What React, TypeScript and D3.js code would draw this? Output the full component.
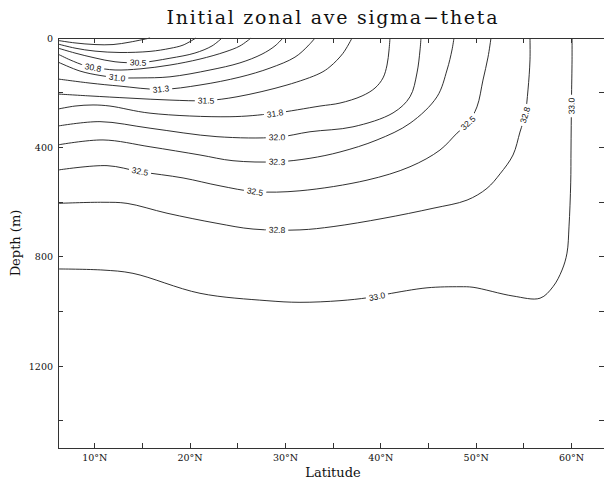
import React from "react";
import * as d3 from "d3";

const W = 604;
const H = 481;
const titleText = "Initial zonal ave sigma\u2212theta";
const xLabelText = "Latitude";
const yLabelText = "Depth (m)";
const latDomain = [6.15, 63.4];
const depthDomain = [0, 1500];
const xTickValues = [10, 20, 30, 40, 50, 60];
const xMinorTicks = [10, 15, 20, 25, 30, 35, 40, 45, 50, 55, 60];
const yTickValues = [0, 400, 800, 1200];
const yMinorTicks = [0, 200, 400, 600, 800, 1000, 1200, 1400];

// contour levels (sigma-theta), interval 0.25
const levels = [30.0, 30.25, 30.5, 30.75, 31.0, 31.25, 31.5, 31.75, 32.0, 32.25, 32.5, 32.75, 33.0];

// each contour: [latitude (deg N), depth (m)]
const c3000 = [[6.15, 9], [7.93, 18], [10.03, 24], [11.92, 24], [13.7, 15], [15.8, 0]];
const c3025 = [[6.15, 22], [7.93, 37], [10.03, 48], [12.65, 53], [15.8, 49], [17.89, 38], [19.26, 26], [20.62, 0]];
const c3050 = [[6.15, 37], [7.93, 55], [10.03, 73], [12.13, 87], [14.75, 90], [17.89, 74], [20.51, 55], [22.3, 29], [23.35, 0]];
const c3075 = [[6.15, 59], [7.41, 80], [8.98, 101], [10.03, 108], [12.13, 117], [14.75, 113], [17.89, 99], [21.04, 77], [23.66, 51], [25.23, 29], [26.39, 0]];
const c3100 = [[6.15, 88], [8.46, 121], [10.55, 137], [12.34, 145], [14.75, 146], [17.89, 142], [22.09, 117], [25.23, 91], [27.54, 59], [28.9, 29], [29.74, 0]];
const c3125 = [[6.15, 150], [9.51, 165], [12.65, 176], [16.95, 188], [21.04, 172], [25.23, 143], [28.38, 110], [31.0, 70], [32.36, 29], [33.1, 0]];
const c3150 = [[6.15, 205], [9.51, 212], [13.7, 220], [17.89, 227], [21.67, 229], [24.92, 215], [30.16, 172], [33.62, 129], [34.67, 105], [36.03, 56], [36.98, 0]];
const c3175 = [[6.15, 260], [7.93, 249], [9.82, 245], [11.6, 249], [15.8, 275], [24.18, 288], [28.69, 276], [33.62, 249], [35.72, 238], [38.03, 212], [39.39, 183], [40.23, 146], [40.65, 99], [40.86, 44], [40.96, 0]];
const c3200 = [[6.15, 322], [10.55, 306], [15.8, 330], [22.82, 361], [29.11, 363], [32.57, 343], [37.08, 325], [41.28, 274], [43.06, 215], [43.79, 128], [44.11, 44], [44.21, 0]];
const c3225 = [[6.15, 391], [10.87, 373], [15.8, 398], [21.04, 428], [24.5, 449], [29.11, 453], [32.57, 440], [35.72, 417], [39.6, 373], [43.06, 312], [45.89, 215], [46.94, 117], [47.46, 44], [47.67, 0]];
const c3250 = [[6.15, 483], [11.29, 467], [14.75, 489], [19.26, 512], [23.14, 541], [26.81, 562], [31.52, 559], [38.55, 520], [43.06, 471], [46.2, 410], [47.99, 348], [49.14, 311], [50.08, 252], [50.71, 154], [51.24, 70], [51.55, 0]];
const c3275 = [[6.15, 605], [10.87, 601], [13.39, 605], [17.58, 641], [22.82, 678], [26.6, 699], [31.52, 702], [34.99, 690], [40.23, 660], [45.47, 623], [49.04, 593], [51.13, 550], [52.5, 497], [53.86, 428], [54.59, 344], [55.12, 282], [55.43, 190], [55.64, 80], [55.64, 0]];
const c3300 = [[6.15, 845], [10.87, 849], [14.01, 861], [21.04, 934], [28.06, 961], [31.52, 967], [35.72, 961], [38.66, 950], [40.65, 937], [44.84, 914], [48.3, 910], [49.67, 912], [53.86, 944], [56.69, 952], [58.05, 910], [59.0, 849], [59.52, 787], [59.73, 691], [59.91, 530], [59.94, 410], [59.99, 227], [60.05, 80], [60.05, 0]];

const contourLines = [c3000, c3025, c3050, c3075, c3100, c3125, c3150, c3175, c3200, c3225, c3250, c3275, c3300];

// inline contour labels
const labelText = ["30.5", "30.8", "31.0", "31.3", "31.5", "31.8", "32.0", "32.3", "32.5", "32.5", "32.8", "33.0", "32.5", "32.8", "33.0"];
const labelLevel = [30.5, 30.75, 31.0, 31.25, 31.5, 31.75, 32.0, 32.25, 32.5, 32.5, 32.75, 33.0, 32.5, 32.75, 33.0];
const labelLat = [14.54, 9.82, 12.34, 16.95, 21.67, 28.9, 29.11, 29.11, 14.75, 26.81, 29.11, 39.6, 49.14, 55.12, 60.0];
const labelDepth = [90, 108, 145, 187, 229, 276, 363, 453, 488, 562, 702, 946, 311, 282, 249];

export default function App() {
  const x = d3.scaleLinear().domain(latDomain).range([58, 604]);
  const y = d3.scaleLinear().domain(depthDomain).range([38, 448]);
  const x0 = x(latDomain[0]);
  const x1 = x(latDomain[1]);
  const y0 = y(depthDomain[0]);
  const y1 = y(depthDomain[1]);

  const line = d3
    .line<number[]>()
    .x((d) => x(d[0]))
    .y((d) => y(d[1]))
    .curve(d3.curveCatmullRom.alpha(0.5));

  const labels = labelText.map((t, i) => {
    const li = levels.indexOf(labelLevel[i]);
    const pts = contourLines[li].map((d) => [x(d[0]), y(d[1])]);
    const px = x(labelLat[i]);
    const py = y(labelDepth[i]);
    let best = Infinity;
    let ang = 0;
    for (let k = 0; k < pts.length - 1; k++) {
      const [ax, ay] = pts[k];
      const [bx, by] = pts[k + 1];
      const dx = bx - ax;
      const dy = by - ay;
      const L2 = dx * dx + dy * dy || 1;
      let tt = ((px - ax) * dx + (py - ay) * dy) / L2;
      tt = Math.max(0, Math.min(1, tt));
      const qx = ax + tt * dx - px;
      const qy = ay + tt * dy - py;
      const dist = qx * qx + qy * qy;
      if (dist < best) {
        best = dist;
        ang = (Math.atan2(dy, dx) * 180) / Math.PI;
      }
    }
    if (ang > 90) ang -= 180;
    if (ang < -90) ang += 180;
    return { t, px, py, ang };
  });

  const tickLen = 5;
  const axisColor = "#333";

  return (
    <svg
      width={W}
      height={H}
      style={{ position: "absolute", left: 0, top: 0, background: "#fff" }}
    >
      <rect x={0} y={0} width={W} height={H} fill="#fff" />
      <text
        x={332}
        y={24}
        textAnchor="middle"
        fontFamily="DejaVu Serif"
        fontSize={19}
        textLength={331}
        lengthAdjust="spacing"
        fill="#111"
      >
        {titleText}
      </text>

      {contourLines.map((c, i) => (
        <path key={i} d={line(c as number[][]) || ""} fill="none" stroke="#1a1a1a" strokeWidth={0.9} />
      ))}

      {labels.map((l, i) => (
        <g key={i} transform={`translate(${l.px},${l.py}) rotate(${l.ang})`}>
          <rect x={-l.t.length * 2.3 - 2} y={-3.8} width={l.t.length * 4.6 + 4} height={7.6} fill="#fff" />
          <text
            x={0}
            y={3}
            textAnchor="middle"
            fontFamily="Liberation Sans"
            fontSize={8.5}
            fill="#111"
          >
            {l.t}
          </text>
        </g>
      ))}

      {/* frame */}
      <g stroke={axisColor} strokeWidth={1} shapeRendering="crispEdges" fill="none">
        <line x1={x0} y1={y0} x2={x1} y2={y0} />
        <line x1={x0} y1={y1} x2={x1} y2={y1} />
        <line x1={x0} y1={y0} x2={x0} y2={y1} />
        <line x1={x1} y1={y0} x2={x1} y2={y1} />
        {xMinorTicks.map((v) => (
          <g key={"xt" + v}>
            <line x1={x(v)} y1={y1} x2={x(v)} y2={y1 - tickLen} />
            <line x1={x(v)} y1={y0} x2={x(v)} y2={y0 + tickLen} />
          </g>
        ))}
        {yMinorTicks.map((v) => (
          <g key={"yt" + v}>
            <line x1={x0} y1={y(v)} x2={x0 + tickLen} y2={y(v)} />
            <line x1={x1} y1={y(v)} x2={x1 - tickLen} y2={y(v)} />
          </g>
        ))}
      </g>

      {xTickValues.map((v) => (
        <text
          key={"xl" + v}
          x={x(v)}
          y={461}
          textAnchor="middle"
          fontFamily="DejaVu Serif"
          fontSize={9.5}
          fill="#111"
        >
          {`${v}\u00B0N`}
        </text>
      ))}
      {yTickValues.map((v) => (
        <text
          key={"yl" + v}
          x={53}
          y={y(v) + 3.5}
          textAnchor="end"
          fontFamily="DejaVu Serif"
          fontSize={9.5}
          fill="#111"
        >
          {v}
        </text>
      ))}

      <text x={333} y={477} textAnchor="middle" fontFamily="DejaVu Serif" fontSize={13} fill="#111">
        {xLabelText}
      </text>
      <text
        transform={`translate(20,${243}) rotate(-90)`}
        textAnchor="middle"
        fontFamily="DejaVu Serif"
        fontSize={13}
        fill="#111"
      >
        {yLabelText}
      </text>
    </svg>
  );
}
